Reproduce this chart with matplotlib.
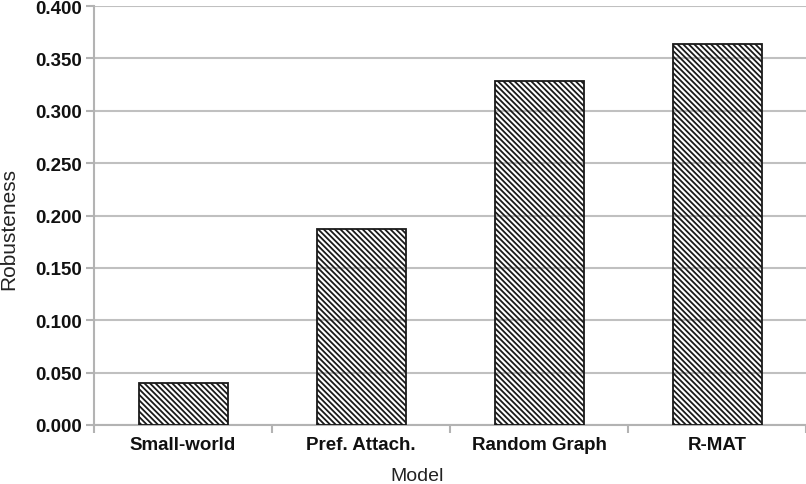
import matplotlib as mpl
import matplotlib.pyplot as plt
import numpy as np
from matplotlib.ticker import FormatStrFormatter

models = ['Small-world', 'Pref. Attach.', 'Random Graph', 'R-MAT']
robust = [0.040, 0.187, 0.328, 0.364]
yticks = [0.0, 0.05, 0.1, 0.15, 0.2, 0.25, 0.3, 0.35, 0.4]

mpl.rcParams.update({'font.family': 'Liberation Sans', 'hatch.linewidth': 1.3,
                     'hatch.color': '#1a1a1a'})

fig = plt.figure(figsize=[8.06, 4.85], dpi=100)
ax = fig.add_axes((94/806, 59/485, (806-94)/806, (426-7)/485))

x = np.arange(len(models))
ax.bar(x, robust, width=0.5, facecolor='none', edgecolor='#1a1a1a',
       linewidth=1.3, hatch='\\\\\\\\\\\\', zorder=3)

ax.set_xlim(-0.5, len(models)-0.5)
ax.set_ylim(0, 0.4)
ax.set_yticks(yticks)
ax.yaxis.set_major_formatter(FormatStrFormatter('%.3f'))
ax.set_xticks(np.arange(len(models)+1)-0.5)
ax.set_xticklabels([])
ax.set_xticks(x, minor=True)
ax.set_xticklabels(models, minor=True, fontsize=13.5, fontweight='bold', color='#111111')
ax.tick_params(axis='x', which='minor', length=0, pad=8)
ax.tick_params(axis='x', which='major', length=6, color='#b3b3b3', width=1.5)
ax.tick_params(axis='y', length=6, color='#b3b3b3', width=1.5, labelsize=13.5, pad=3)
for lab in ax.get_yticklabels():
    lab.set_fontweight('bold')
    lab.set_color('#111111')

ax.grid(axis='y', color='#c0c0c0', linewidth=1.5, zorder=0)
ax.set_axisbelow(True)
for s in ['top', 'right']:
    ax.spines[s].set_visible(False)
for s in ['left', 'bottom']:
    ax.spines[s].set_color('#b3b3b3')
    ax.spines[s].set_linewidth(1.5)

# axis titles placed in figure pixels
fig.text(417/806, 1-477/485, 'Model', fontsize=14, color='#222222',
         ha='center', va='center')
fig.text(9/806, 1-229/485, 'Robusteness', fontsize=15, color='#222222',
         ha='center', va='center', rotation=90)

fig.savefig('out.png', dpi=100)
